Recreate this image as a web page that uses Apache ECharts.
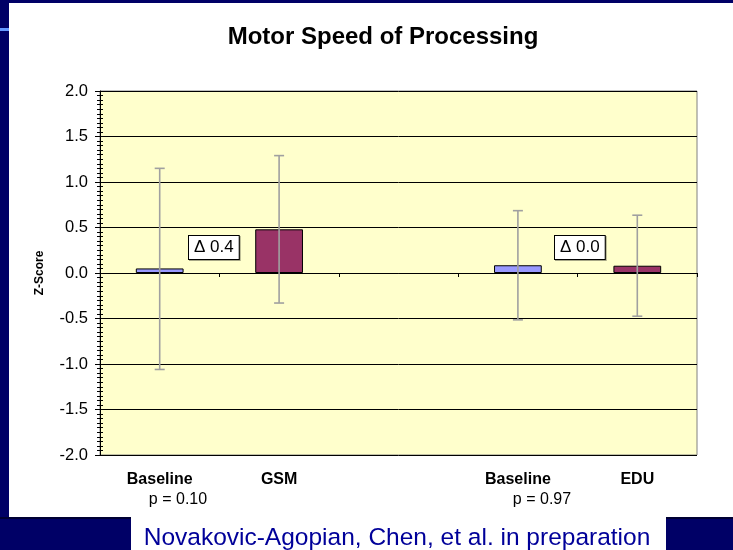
<!DOCTYPE html>
<html>
<head>
<meta charset="utf-8">
<title>Motor Speed of Processing</title>
<script src="https://cdn.jsdelivr.net/npm/echarts@6/dist/echarts.min.js"></script>
<style>
    html, body { margin: 0; padding: 0; background: #000066; }
    #main { width: 733px; height: 550px; }
</style>
</head>
<body>
<div id="main"></div>
<script>
var categories = ["Baseline", "GSM", "", "Baseline", "EDU"];
var means = [0.05, 0.48, "-", 0.085, 0.08];
var errLow = [-1.06, -0.33, "-", -0.515, -0.475];
var errHigh = [1.15, 1.29, "-", 0.685, 0.635];
var barColors = ["#9999FF", "#993366", "#FFFFFF", "#9999FF", "#993366"];
var deltaLabels = ["\u0394 0.4", "\u0394 0.0"];
var pLabels = ["p = 0.10", "p = 0.97"];
var yTicks = [-2, 2, 0.5];

var font = "Arial, 'Liberation Sans', sans-serif";

var errData = [];
for (var i = 0; i < categories.length; i++) {
    if (means[i] !== "-") {
        errData.push([i, errLow[i], errHigh[i]]);
    }
}

var myChart = echarts.init(document.getElementById("main"));

function renderErr(params, api) {
    var lo = api.coord([api.value(0), api.value(1)]);
    var hi = api.coord([api.value(0), api.value(2)]);
    var cap = 5;
    var st = { stroke: "#A0A0A0", lineWidth: 1.6 };
    return {
        type: "group",
        children: [
            { type: "line", shape: { x1: hi[0], y1: hi[1], x2: lo[0], y2: lo[1] }, style: st },
            { type: "line", shape: { x1: hi[0] - cap, y1: hi[1], x2: hi[0] + cap, y2: hi[1] }, style: st },
            { type: "line", shape: { x1: lo[0] - cap, y1: lo[1], x2: lo[0] + cap, y2: lo[1] }, style: st }
        ]
    };
}

function boxText(txt, x, y) {
    return {
        type: "text",
        x: x,
        y: y,
        z: 100,
        style: {
            text: txt,
            font: "17px " + font,
            fill: "#000",
            backgroundColor: "#FFFFFF",
            borderColor: "#000",
            borderWidth: 1,
            padding: [3, 5, 3, 5],
            shadowColor: "rgba(0,0,0,0.35)",
            shadowOffsetX: 1,
            shadowOffsetY: 1
        }
    };
}

var option = {
    backgroundColor: "#000066",
    animation: false,
    title: {
        text: "Motor Speed of Processing",
        left: 378,
        top: 20,
        textAlign: "center",
        textStyle: { fontFamily: font, fontSize: 24, fontWeight: "bold", color: "#000" }
    },
    graphic: [
        // slide background pieces
        { type: "rect", zlevel: -1, shape: { x: 9, y: 3, width: 724, height: 514 }, style: { fill: "#FFFFFF" } },
        { type: "rect", zlevel: -1, shape: { x: 0, y: 28, width: 9, height: 3 }, style: { fill: "#6699FF" } },
        { type: "rect", zlevel: -1, shape: { x: 131, y: 517, width: 535, height: 33 }, style: { fill: "#FFFFFF" } },
        { type: "rect", zlevel: -1, shape: { x: 0, y: 517, width: 131, height: 2 }, style: { fill: "#000033" } },
        { type: "rect", zlevel: -1, shape: { x: 666, y: 517, width: 67, height: 2 }, style: { fill: "#000033" } },
        boxText(deltaLabels[0], 189, 236),
        boxText(deltaLabels[1], 555, 236),
        {
            type: "text", x: 178, y: 500,
            style: { text: pLabels[0], font: "16px " + font, fill: "#000", align: "center", verticalAlign: "middle" }
        },
        {
            type: "text", x: 542, y: 500,
            style: { text: pLabels[1], font: "16px " + font, fill: "#000", align: "center", verticalAlign: "middle" }
        },
        {
            type: "text", x: 397, y: 538,
            style: { text: "Novakovic-Agopian, Chen, et al. in preparation", font: "24.5px " + font, fill: "#000099", align: "center", verticalAlign: "middle" }
        }
    ],
    grid: {
        left: 100,
        top: 91,
        width: 597,
        height: 364,
        show: true,
        backgroundColor: "#FFFFCC",
        borderColor: "#808080",
        borderWidth: 1
    },
    xAxis: [
        {
            type: "category",
            data: categories,
            position: "bottom",
            axisLine: { show: true, onZero: true, lineStyle: { color: "#000", width: 1 } },
            axisTick: { show: true, interval: 0, length: 4, lineStyle: { color: "#000" } },
            axisLabel: { show: false },
            splitLine: { show: false }
        },
        {
            type: "category",
            data: categories,
            position: "bottom",
            axisLine: { show: false, onZero: false },
            axisTick: { show: false },
            axisLabel: {
                interval: 0,
                margin: 17,
                fontFamily: font,
                fontSize: 16,
                fontWeight: "bold",
                color: "#000"
            },
            splitLine: { show: false }
        }
    ],
    yAxis: [
        {
            type: "value",
            min: yTicks[0],
            max: yTicks[1],
            interval: yTicks[2],
            name: "Z-Score",
            nameLocation: "middle",
            nameGap: 54,
            nameRotate: 90,
            nameTextStyle: { fontFamily: font, fontSize: 12, fontWeight: "bold", color: "#000" },
            axisLine: { show: true, lineStyle: { color: "#000", width: 1 } },
            axisTick: { show: true, length: 5, lineStyle: { color: "#000" } },
            minorTick: { show: true, splitNumber: 10, length: 3, lineStyle: { color: "#000" } },
            axisLabel: {
                margin: 12,
                fontFamily: font,
                fontSize: 16.5,
                color: "#000",
                formatter: function (v) { return v.toFixed(1); }
            },
            splitLine: { show: true, lineStyle: { color: "#000", width: 1 } }
        },
        {
            type: "value",
            min: yTicks[0],
            max: yTicks[1],
            interval: yTicks[2],
            position: "left",
            axisLine: { show: false },
            axisTick: { show: true, inside: true, length: 5, lineStyle: { color: "#000" } },
            minorTick: { show: true, splitNumber: 10, length: 3, lineStyle: { color: "#000" } },
            axisLabel: { show: false },
            splitLine: { show: false }
        }
    ],
    series: [
        {
            type: "bar",
            xAxisIndex: 0,
            yAxisIndex: 0,
            barWidth: "40%",
            data: means,
            itemStyle: {
                color: function (p) { return barColors[p.dataIndex]; },
                borderColor: "#000",
                borderWidth: 1
            }
        },
        {
            type: "custom",
            xAxisIndex: 0,
            yAxisIndex: 0,
            renderItem: renderErr,
            encode: { x: 0, y: [1, 2] },
            data: errData,
            z: 5
        }
    ]
};

myChart.setOption(option);
</script>
</body>
</html>
